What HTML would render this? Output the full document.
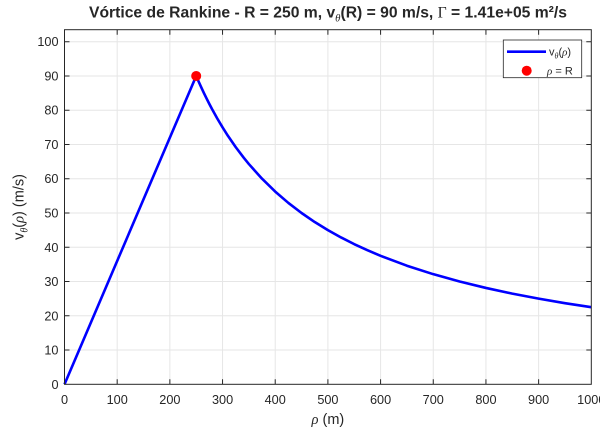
<!DOCTYPE html>
<html><head><meta charset="utf-8"><style>
html,body{margin:0;padding:0;background:#fff;}
svg{display:block;}
text{font-family:"Liberation Sans",Arial,sans-serif;fill:#262626;}
</style></head><body>
<svg width="600" height="429" viewBox="0 0 600 429" xmlns="http://www.w3.org/2000/svg">
<rect width="600" height="429" fill="#fff"/>
<!-- grid -->
<g stroke="#e6e6e6" stroke-width="1">
<line x1="117.18" y1="29.7" x2="117.18" y2="384.3"/>
<line x1="169.86" y1="29.7" x2="169.86" y2="384.3"/>
<line x1="222.54" y1="29.7" x2="222.54" y2="384.3"/>
<line x1="275.22" y1="29.7" x2="275.22" y2="384.3"/>
<line x1="327.9" y1="29.7" x2="327.9" y2="384.3"/>
<line x1="380.58" y1="29.7" x2="380.58" y2="384.3"/>
<line x1="433.26" y1="29.7" x2="433.26" y2="384.3"/>
<line x1="485.94" y1="29.7" x2="485.94" y2="384.3"/>
<line x1="538.62" y1="29.7" x2="538.62" y2="384.3"/>
<line x1="64.5" y1="350.04" x2="591.3" y2="350.04"/>
<line x1="64.5" y1="315.78" x2="591.3" y2="315.78"/>
<line x1="64.5" y1="281.52" x2="591.3" y2="281.52"/>
<line x1="64.5" y1="247.26" x2="591.3" y2="247.26"/>
<line x1="64.5" y1="213.0" x2="591.3" y2="213.0"/>
<line x1="64.5" y1="178.74" x2="591.3" y2="178.74"/>
<line x1="64.5" y1="144.48" x2="591.3" y2="144.48"/>
<line x1="64.5" y1="110.22" x2="591.3" y2="110.22"/>
<line x1="64.5" y1="75.96" x2="591.3" y2="75.96"/>
<line x1="64.5" y1="41.7" x2="591.3" y2="41.7"/>
</g>
<!-- ticks -->
<g stroke="#262626" stroke-width="1">
<path d="M117.18 384.3v-5M169.86 384.3v-5M222.54 384.3v-5M275.22 384.3v-5M327.9 384.3v-5M380.58 384.3v-5M433.26 384.3v-5M485.94 384.3v-5M538.62 384.3v-5"/>
<path d="M117.18 29.7v5M169.86 29.7v5M222.54 29.7v5M275.22 29.7v5M327.9 29.7v5M380.58 29.7v5M433.26 29.7v5M485.94 29.7v5M538.62 29.7v5"/>
<path d="M64.5 350.04h5M64.5 315.78h5M64.5 281.52h5M64.5 247.26h5M64.5 213h5M64.5 178.74h5M64.5 144.48h5M64.5 110.22h5M64.5 75.96h5M64.5 41.7h5"/>
<path d="M591.3 350.04h-5M591.3 315.78h-5M591.3 281.52h-5M591.3 247.26h-5M591.3 213h-5M591.3 178.74h-5M591.3 144.48h-5M591.3 110.22h-5M591.3 75.96h-5M591.3 41.7h-5"/>
</g>
<!-- curve -->
<polyline fill="none" stroke="#0000ff" stroke-width="2.6" stroke-linejoin="round"
points="64.5,384.3 196.2,75.96 198.83,82.01 201.47,87.82 204.10,93.41 206.74,98.8 209.37,103.99 212.0,109.0 217.27,118.49 222.54,127.35 227.81,135.64 235.71,147.11 243.61,157.58 248.88,164.06 262.05,178.74 275.22,191.59 288.39,202.93 301.56,213.0 314.73,222.02 327.9,230.13 341.07,237.47 354.24,244.15 367.41,250.24 380.58,255.82 406.92,265.71 433.26,274.18 459.6,281.52 485.94,287.94 512.28,293.61 538.62,298.65 564.96,303.16 591.3,307.21"/>
<circle cx="196.2" cy="75.96" r="5" fill="#ff0000"/>
<!-- axes box -->
<rect x="64.5" y="29.7" width="526.8" height="354.6" fill="none" stroke="#262626" stroke-width="1"/>
<!-- x tick labels -->
<g font-size="12.7" text-anchor="middle">
<text x="64.5" y="404">0</text>
<text x="117.18" y="404">100</text>
<text x="169.86" y="404">200</text>
<text x="222.54" y="404">300</text>
<text x="275.22" y="404">400</text>
<text x="327.9" y="404">500</text>
<text x="380.58" y="404">600</text>
<text x="433.26" y="404">700</text>
<text x="485.94" y="404">800</text>
<text x="538.62" y="404">900</text>
<text x="591.3" y="404">1000</text>
</g>
<!-- y tick labels -->
<g font-size="12.7" text-anchor="end">
<text x="58.5" y="388.8">0</text>
<text x="58.5" y="354.5">10</text>
<text x="58.5" y="320.3">20</text>
<text x="58.5" y="286">30</text>
<text x="58.5" y="251.8">40</text>
<text x="58.5" y="217.5">50</text>
<text x="58.5" y="183.2">60</text>
<text x="58.5" y="149">70</text>
<text x="58.5" y="114.7">80</text>
<text x="58.5" y="80.5">90</text>
<text x="58.5" y="46.2">100</text>
</g>
<!-- x label -->
<text x="327.9" y="424" font-size="14.5" text-anchor="middle"><tspan font-style="italic" font-family="Liberation Serif, serif">ρ</tspan> (m)</text>
<!-- y label -->
<text transform="translate(23.5,207) rotate(-90)" font-size="14.5" text-anchor="middle">v<tspan font-size="10" dy="4" font-style="italic" font-family="Liberation Serif, serif">θ</tspan><tspan dy="-4">(</tspan><tspan font-style="italic" font-family="Liberation Serif, serif">ρ</tspan>) (m/s)</text>
<!-- title -->
<text x="328" y="17.5" font-size="16" font-weight="bold" text-anchor="middle" fill="#000" textLength="478" lengthAdjust="spacingAndGlyphs">Vórtice de Rankine - R = 250 m, v<tspan font-size="11" dy="4" font-style="italic" font-weight="normal" font-family="Liberation Serif, serif">θ</tspan><tspan dy="-4">(R) = 90 m/s, </tspan><tspan font-family="Liberation Serif, serif" font-weight="normal">Γ</tspan> = 1.41e+05 m²/s</text>
<!-- legend -->
<rect x="503.3" y="40" width="78.4" height="37.7" fill="#fff" stroke="#262626" stroke-width="0.8"/>
<line x1="507" y1="51.7" x2="546" y2="51.7" stroke="#0000ff" stroke-width="2.6"/>
<text x="549" y="55.5" font-size="11">v<tspan font-size="8" dy="3" font-style="italic" font-family="Liberation Serif, serif">θ</tspan><tspan dy="-3">(</tspan><tspan font-style="italic" font-family="Liberation Serif, serif">ρ</tspan>)</text>
<circle cx="526.7" cy="70.7" r="5" fill="#ff0000"/>
<text x="547" y="74.5" font-size="11"><tspan font-style="italic" font-family="Liberation Serif, serif">ρ</tspan> = R</text>
</svg>
</body></html>
